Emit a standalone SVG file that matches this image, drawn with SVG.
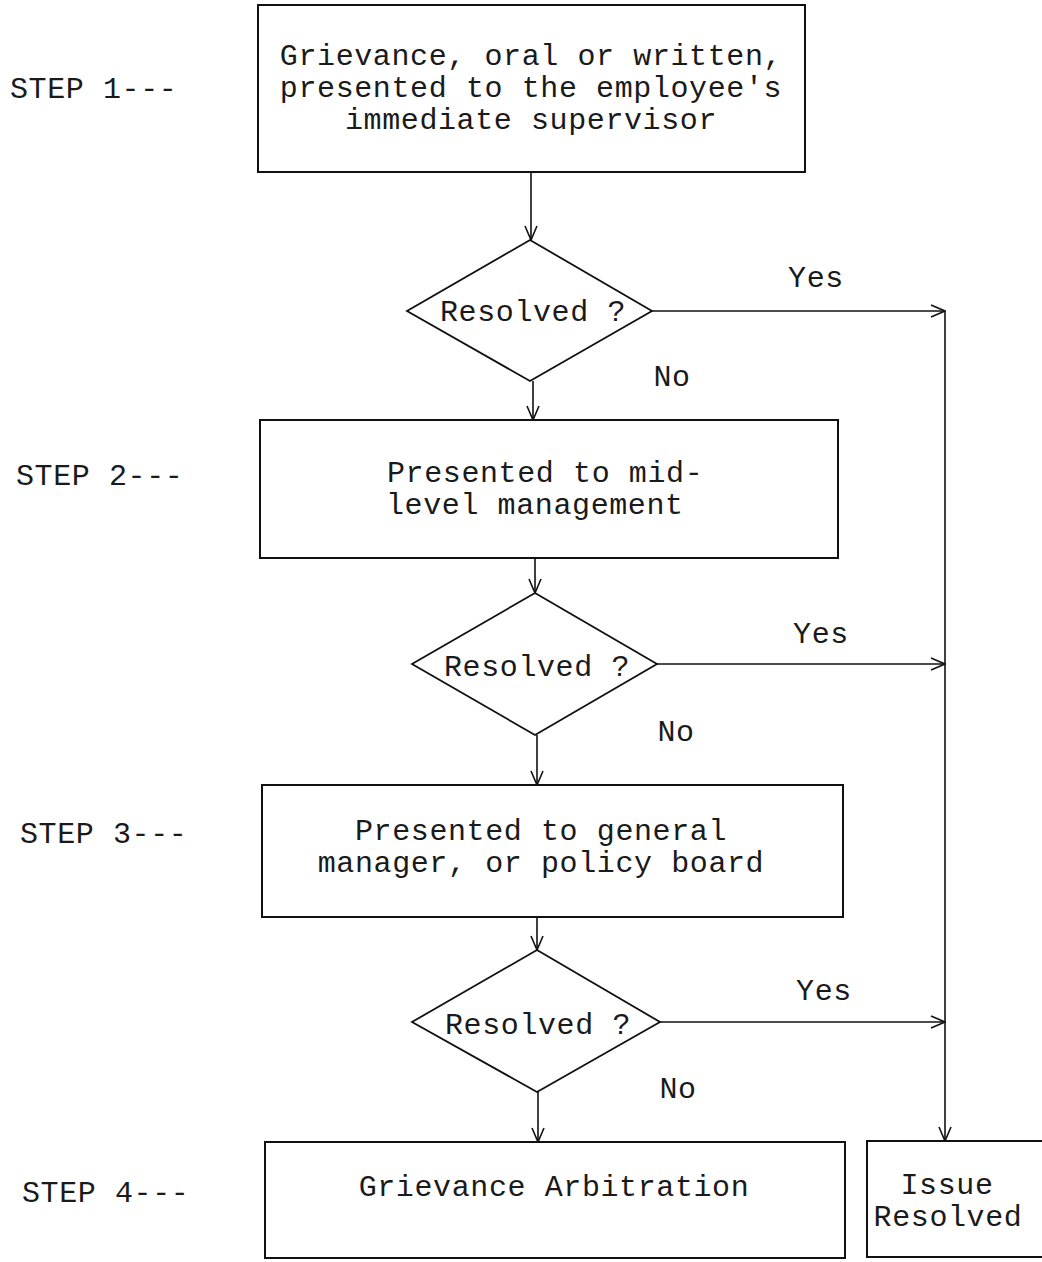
<svg xmlns="http://www.w3.org/2000/svg" width="1042" height="1262" viewBox="0 0 1042 1262">
<defs>
<marker id="arr" markerWidth="16" markerHeight="14" refX="15" refY="7" orient="auto" markerUnits="userSpaceOnUse">
<path d="M1,1 L15,7 L1,13" fill="none" stroke="#111" stroke-width="1.6"/>
</marker>
<style>
.box{fill:#fff;stroke:#111;stroke-width:2}
.dia{fill:#fff;stroke:#111;stroke-width:1.8}
.ln{fill:none;stroke:#111;stroke-width:1.6}
text{font-family:"Liberation Mono","Courier New",monospace;font-size:30px;letter-spacing:0.6px;fill:#1a1a1a}
.c{text-anchor:middle}
</style>
</defs>
<rect width="1042" height="1262" fill="#fff"/>
<g id="connectors">
<line class="ln" x1="531" y1="172" x2="531" y2="240" marker-end="url(#arr)"/>
<line class="ln" x1="533" y1="381" x2="533" y2="420" marker-end="url(#arr)"/>
<line class="ln" x1="535" y1="558" x2="535" y2="593" marker-end="url(#arr)"/>
<line class="ln" x1="537" y1="735" x2="537" y2="785" marker-end="url(#arr)"/>
<line class="ln" x1="537" y1="917" x2="537" y2="950" marker-end="url(#arr)"/>
<line class="ln" x1="538" y1="1092" x2="538" y2="1142" marker-end="url(#arr)"/>
<line class="ln" x1="652" y1="311" x2="945" y2="311" marker-end="url(#arr)"/>
<line class="ln" x1="657" y1="664" x2="945" y2="664" marker-end="url(#arr)"/>
<line class="ln" x1="660" y1="1022" x2="945" y2="1022" marker-end="url(#arr)"/>
<line class="ln" x1="945" y1="311" x2="945" y2="1141" marker-end="url(#arr)"/>
<text x="816" y="287" class="c">Yes</text>
<text x="672" y="386" class="c">No</text>
<text x="821" y="643" class="c">Yes</text>
<text x="676" y="741" class="c">No</text>
<text x="824" y="1000" class="c">Yes</text>
<text x="678" y="1098" class="c">No</text>
</g>
<g id="labels">
<text x="10" y="98">STEP 1---</text>
<text x="16" y="485">STEP 2---</text>
<text x="20" y="843">STEP 3---</text>
<text x="22" y="1202">STEP 4---</text>
</g>
<g id="step1">
<rect class="box" x="258" y="5" width="547" height="167"/>
<text x="531" y="65" class="c">Grievance, oral or written,</text>
<text x="531" y="97" class="c">presented to the employee's</text>
<text x="531" y="129" class="c">immediate supervisor</text>
</g>
<g id="decision1">
<polygon class="dia" points="530,240 652,311 530,381 407,311"/>
<text x="533" y="321" class="c">Resolved ?</text>
</g>
<g id="step2">
<rect class="box" x="260" y="420" width="578" height="138"/>
<text x="387" y="482">Presented to mid-</text>
<text x="386" y="514">level management</text>
</g>
<g id="decision2">
<polygon class="dia" points="535,593 657,664 535,735 412,664"/>
<text x="537" y="676" class="c">Resolved ?</text>
</g>
<g id="step3">
<rect class="box" x="262" y="785" width="581" height="132"/>
<text x="541" y="840" class="c">Presented to general</text>
<text x="541" y="872" class="c">manager, or policy board</text>
</g>
<g id="decision3">
<polygon class="dia" points="537,950 660,1022 537,1092 412,1022"/>
<text x="538" y="1034" class="c">Resolved ?</text>
</g>
<g id="step4">
<rect class="box" x="265" y="1142" width="580" height="116"/>
<text x="554" y="1196" class="c">Grievance Arbitration</text>
</g>
<g id="resolved">
<rect class="box" x="867" y="1141" width="185" height="116"/>
<text x="947" y="1194" class="c">Issue</text>
<text x="948" y="1226" class="c">Resolved</text>
</g>
</svg>
